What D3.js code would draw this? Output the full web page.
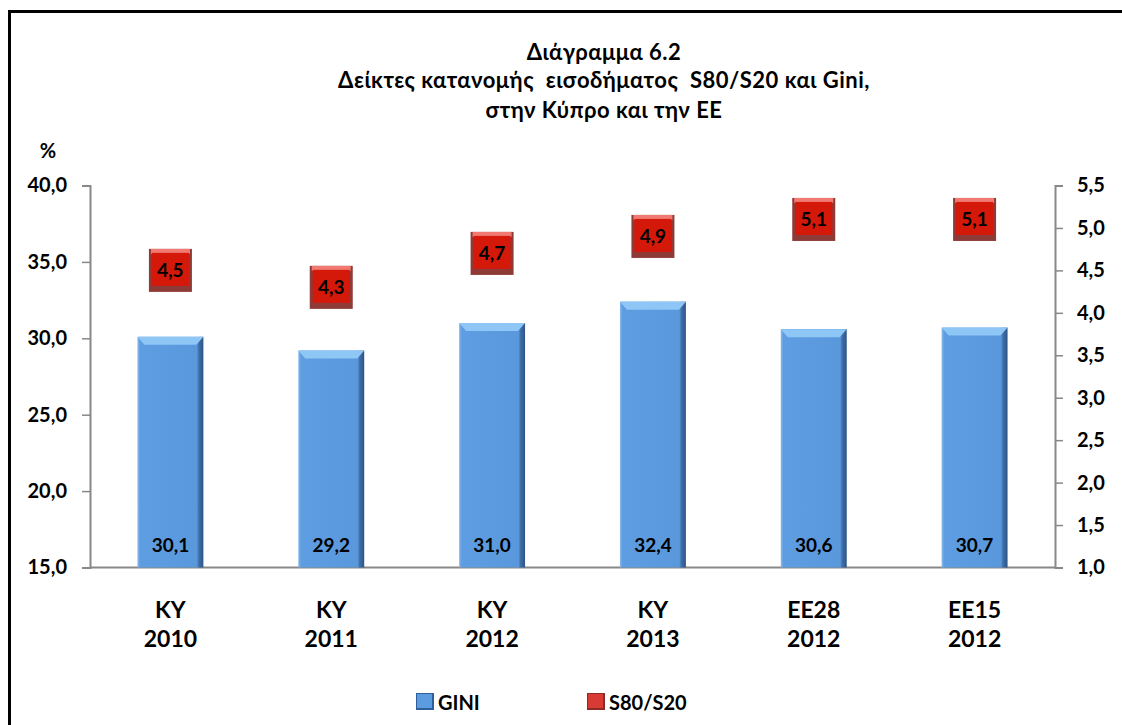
<!DOCTYPE html>
<html>
<head>
<meta charset="utf-8">
<script src="https://cdn.jsdelivr.net/npm/d3@7"></script>
<style>
  body { margin: 0; background: #fff; }
  text { font-family: Lato, "Open Sans", sans-serif; font-weight: bold; fill: #000; }
</style>
</head>
<body>
<script>
var categories = [["ΚΥ", "2010"], ["ΚΥ", "2011"], ["ΚΥ", "2012"], ["ΚΥ", "2013"], ["ΕΕ28", "2012"], ["ΕΕ15", "2012"]];
var giniValues = [30.1, 29.2, 31.0, 32.4, 30.6, 30.7];
var s80Values = [4.5, 4.3, 4.7, 4.9, 5.1, 5.1];
var leftTicks = [15, 20, 25, 30, 35, 40];
var rightTicks = [1.0, 1.5, 2.0, 2.5, 3.0, 3.5, 4.0, 4.5, 5.0, 5.5];
var titleLines = ["Διάγραμμα 6.2", "Δείκτες κατανομής  εισοδήματος  S80/S20 και Gini,", "στην Κύπρο και την ΕΕ"];

var W = 1122, H = 725;
var plotLeft = 90, plotRight = 1055, plotTop = 185.5, plotBottom = 567.5;
var fmt = function (v) { return d3.format(".1f")(v).replace(".", ","); };

var svg = d3.select("body").append("svg")
    .attr("width", W)
    .attr("height", H);

// outer frame, runs off the right and bottom edges
svg.append("rect")
    .attr("x", 9.5).attr("y", 11.5)
    .attr("width", W + 20).attr("height", H + 20)
    .attr("fill", "none").attr("stroke", "#000").attr("stroke-width", 3);

// title
svg.selectAll("text.title")
    .data(titleLines)
    .enter().append("text")
    .attr("class", "title")
    .attr("x", 604)
    .attr("y", function (d, i) { return [60, 88, 118][i]; })
    .attr("text-anchor", "middle")
    .attr("xml:space", "preserve")
    .style("white-space", "pre")
    .style("letter-spacing", "0.5px")
    .style("font-size", "22px")
    .text(function (d) { return d; });

var x = d3.scaleBand().domain(d3.range(categories.length)).range([plotLeft, plotRight]).paddingInner(0.59).paddingOuter(0.295);
var yL = d3.scaleLinear().domain([15, 40]).range([plotBottom, plotTop]);
var yR = d3.scaleLinear().domain([1, 5.5]).range([plotBottom, plotTop]);

// axes
var axL = svg.append("g")
    .attr("transform", "translate(" + plotLeft + ",0)")
    .call(d3.axisLeft(yL).tickValues(leftTicks).tickSize(8).tickPadding(15).tickFormat(fmt));
var axR = svg.append("g")
    .attr("transform", "translate(" + plotRight + ",0)")
    .call(d3.axisRight(yR).tickValues(rightTicks).tickSize(8).tickPadding(14).tickFormat(fmt));
[axL, axR].forEach(function (ax) {
    ax.select(".domain").attr("stroke", "#888").attr("stroke-width", 2);
    ax.selectAll(".tick line").attr("stroke", "#888").attr("stroke-width", 1.5);
    ax.selectAll(".tick text").style("font-size", "20px").style("font-family", "Lato, sans-serif").attr("fill", "#000");
});

// x baseline
svg.append("line")
    .attr("x1", plotLeft).attr("x2", plotRight)
    .attr("y1", plotBottom).attr("y2", plotBottom)
    .attr("stroke", "#888").attr("stroke-width", 2);

svg.append("text")
    .attr("x", 48).attr("y", 158)
    .attr("text-anchor", "middle")
    .style("font-size", "20px")
    .text("%");

// gradients
var defs = svg.append("defs");
var gb = defs.append("linearGradient").attr("id", "gBlue").attr("x1", 0).attr("x2", 1).attr("y1", 0).attr("y2", 0);
gb.append("stop").attr("offset", "0%").attr("stop-color", "#8ab8ea");
gb.append("stop").attr("offset", "4%").attr("stop-color", "#5e9de2");
gb.append("stop").attr("offset", "90%").attr("stop-color", "#5a98dc");
gb.append("stop").attr("offset", "93%").attr("stop-color", "#3f70aa");
gb.append("stop").attr("offset", "100%").attr("stop-color", "#2d5485");

// GINI bars
var bars = svg.selectAll("g.bar")
    .data(giniValues)
    .enter().append("g")
    .attr("class", "bar");
bars.append("rect")
    .attr("x", function (d, i) { return x(i); })
    .attr("y", function (d) { return yL(d); })
    .attr("width", x.bandwidth())
    .attr("height", function (d) { return plotBottom - yL(d); })
    .attr("fill", "url(#gBlue)");
bars.append("path")
    .attr("d", function (d, i) {
        var x0 = x(i), x1 = x(i) + x.bandwidth(), y0 = yL(d);
        return "M" + x0 + "," + y0 + "H" + x1 + "L" + (x1 - 7) + "," + (y0 + 8) + "H" + (x0 + 7) + "Z";
    })
    .attr("fill", "#8ec6f6");
bars.append("text")
    .attr("x", function (d, i) { return x(i) + x.bandwidth() / 2; })
    .attr("y", plotBottom - 16)
    .attr("text-anchor", "middle")
    .style("font-size", "19px")
    .text(function (d) { return fmt(d); });

// S80/S20 markers
var s = 43;
var marks = svg.selectAll("g.mark")
    .data(s80Values)
    .enter().append("g")
    .attr("class", "mark");
marks.append("rect")
    .attr("x", function (d, i) { return x(i) + x.bandwidth() / 2 - s / 2; })
    .attr("y", function (d) { return yR(d) - s / 2; })
    .attr("width", s).attr("height", s)
    .attr("fill", "#8e3a36");
marks.append("rect")
    .attr("x", function (d, i) { return x(i) + x.bandwidth() / 2 - s / 2 + 2; })
    .attr("y", function (d) { return yR(d) - s / 2; })
    .attr("width", s - 4).attr("height", 5)
    .attr("fill", "#f07a72");
marks.append("rect")
    .attr("x", function (d, i) { return x(i) + x.bandwidth() / 2 - s / 2 + 3; })
    .attr("y", function (d) { return yR(d) - s / 2 + 4; })
    .attr("width", s - 6).attr("height", s - 10)
    .attr("fill", "#d4190b");
marks.append("text")
    .attr("x", function (d, i) { return x(i) + x.bandwidth() / 2; })
    .attr("y", function (d) { return yR(d) + 7; })
    .attr("text-anchor", "middle")
    .style("font-size", "19px")
    .text(function (d) { return fmt(d); });

// category labels
var cat = svg.selectAll("g.cat")
    .data(categories)
    .enter().append("g")
    .attr("class", "cat");
cat.selectAll("text")
    .data(function (d, i) { return d.map(function (t) { return { t: t, i: i }; }); })
    .enter().append("text")
    .attr("x", function (d) { return x(d.i) + x.bandwidth() / 2; })
    .attr("y", function (d, j) { return 618 + j * 29; })
    .attr("text-anchor", "middle")
    .style("font-size", "23px")
    .text(function (d) { return d.t; });

// legend
var legend = [{ name: "GINI", c1: "#5b9be0", c2: "#2f5f98", x: 416 }, { name: "S80/S20", c1: "#d83a34", c2: "#8e2a26", x: 587 }];
var lg = svg.selectAll("g.legend")
    .data(legend)
    .enter().append("g")
    .attr("class", "legend");
lg.append("rect")
    .attr("x", function (d) { return d.x; }).attr("y", 693)
    .attr("width", 18).attr("height", 17)
    .attr("fill", function (d) { return d.c2; });
lg.append("rect")
    .attr("x", function (d) { return d.x + 1; }).attr("y", 694)
    .attr("width", 15).attr("height", 14)
    .attr("fill", function (d) { return d.c1; });
lg.append("text")
    .attr("x", function (d) { return d.x + 22; }).attr("y", 710)
    .style("font-size", "20px")
    .text(function (d) { return d.name; });
</script>
</body>
</html>
